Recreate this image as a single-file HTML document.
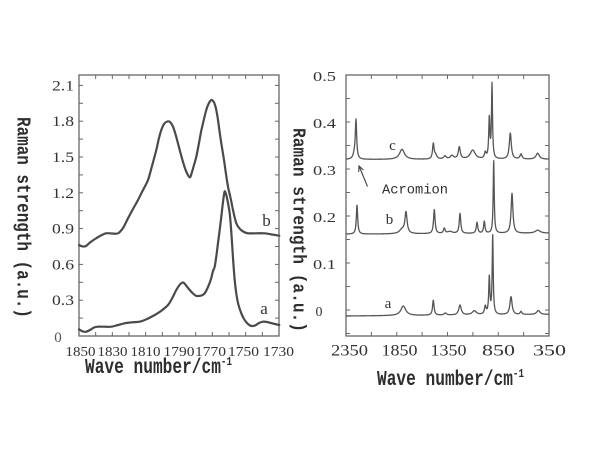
<!DOCTYPE html>
<html>
<head>
<meta charset="utf-8">
<style>
html,body{margin:0;padding:0;background:#fff;width:600px;height:450px;overflow:hidden;}
svg{display:block;}
.tl{font-family:"Liberation Serif",serif;fill:#333;}
.mono{font-family:"Liberation Mono",monospace;fill:#2e2e2e;}
</style>
</head>
<body>
<svg id="s" width="600" height="450" viewBox="0 0 600 450" xmlns="http://www.w3.org/2000/svg">
<rect width="600" height="450" fill="#fff"/>

<!-- LEFT PANEL -->
<rect x="79" y="75" width="200" height="261" fill="none" stroke="#666" stroke-width="1.3"/>
<g id="ticksL" stroke="#666" stroke-width="1"></g>
<path id="lb" fill="none" stroke="#4a4a4a" stroke-width="2.2" stroke-linejoin="round" stroke-linecap="round"/>
<path id="la" fill="none" stroke="#4a4a4a" stroke-width="2.2" stroke-linejoin="round" stroke-linecap="round"/>

<g class="tl" font-size="15">
  <text x="74" y="90.4" text-anchor="end" textLength="22" lengthAdjust="spacingAndGlyphs">2.1</text>
  <text x="74" y="126.2" text-anchor="end" textLength="22" lengthAdjust="spacingAndGlyphs">1.8</text>
  <text x="74" y="162" text-anchor="end" textLength="22" lengthAdjust="spacingAndGlyphs">1.5</text>
  <text x="74" y="197.8" text-anchor="end" textLength="22" lengthAdjust="spacingAndGlyphs">1.2</text>
  <text x="74" y="233.6" text-anchor="end" textLength="22" lengthAdjust="spacingAndGlyphs">0.9</text>
  <text x="74" y="269.4" text-anchor="end" textLength="22" lengthAdjust="spacingAndGlyphs">0.6</text>
  <text x="74" y="305.2" text-anchor="end" textLength="22" lengthAdjust="spacingAndGlyphs">0.3</text>
  <text x="58" y="342" text-anchor="middle" fill="#555">0</text>
</g>
<g class="tl" font-size="14">
  <text x="65.5" y="356" textLength="30" lengthAdjust="spacingAndGlyphs">1850</text>
  <text x="97.5" y="356" textLength="30" lengthAdjust="spacingAndGlyphs">1830</text>
  <text x="130.5" y="356" textLength="30" lengthAdjust="spacingAndGlyphs">1810</text>
  <text x="163.5" y="356" textLength="31" lengthAdjust="spacingAndGlyphs">1790</text>
  <text x="195" y="356" textLength="31" lengthAdjust="spacingAndGlyphs">1770</text>
  <text x="228" y="356" textLength="31" lengthAdjust="spacingAndGlyphs">1750</text>
  <text x="263" y="356" textLength="31" lengthAdjust="spacingAndGlyphs">1730</text>
</g>
<g class="tl" font-size="17">
  <text x="266.5" y="226" text-anchor="middle">b</text>
  <text x="264" y="314" text-anchor="middle">a</text>
</g>
<text class="mono" font-weight="bold" x="85" y="373" font-size="21" textLength="147" lengthAdjust="spacingAndGlyphs">Wave number/cm<tspan font-size="12" dy="-8">-1</tspan></text>
<text class="mono" font-weight="bold" font-size="19" transform="translate(17.5,117) rotate(90)" x="0" y="0" textLength="201" lengthAdjust="spacingAndGlyphs">Raman strength (a.u.)</text>

<!-- RIGHT PANEL -->
<rect x="346" y="75" width="203" height="261" fill="none" stroke="#666" stroke-width="1.3"/>
<g id="ticksR" stroke="#666" stroke-width="1"></g>
<path id="rc" fill="none" stroke="#555" stroke-width="1.3" stroke-linejoin="round"/>
<path id="rb" fill="none" stroke="#555" stroke-width="1.3" stroke-linejoin="round"/>
<path id="ra" fill="none" stroke="#555" stroke-width="1.3" stroke-linejoin="round"/>

<g class="tl" font-size="14">
  <text x="336" y="81" text-anchor="end" textLength="23" lengthAdjust="spacingAndGlyphs">0.5</text>
  <text x="336" y="128" text-anchor="end" textLength="23" lengthAdjust="spacingAndGlyphs">0.4</text>
  <text x="336" y="175" text-anchor="end" textLength="23" lengthAdjust="spacingAndGlyphs">0.3</text>
  <text x="336" y="222" text-anchor="end" textLength="23" lengthAdjust="spacingAndGlyphs">0.2</text>
  <text x="336" y="269" text-anchor="end" textLength="23" lengthAdjust="spacingAndGlyphs">0.1</text>
  <text x="319" y="316" text-anchor="middle">0</text>
</g>
<g class="tl" font-size="16">
  <text x="349.5" y="355.7" text-anchor="middle" textLength="37" lengthAdjust="spacingAndGlyphs">2350</text>
  <text x="399.5" y="355.7" text-anchor="middle" textLength="36" lengthAdjust="spacingAndGlyphs">1850</text>
  <text x="448.5" y="355.7" text-anchor="middle" textLength="36" lengthAdjust="spacingAndGlyphs">1350</text>
  <text x="498.5" y="355.7" text-anchor="middle" textLength="33" lengthAdjust="spacingAndGlyphs">850</text>
  <text x="549.5" y="355.7" text-anchor="middle" textLength="33" lengthAdjust="spacingAndGlyphs">350</text>
</g>
<g class="tl" font-size="15">
  <text x="392.5" y="150" text-anchor="middle">c</text>
  <text x="389.5" y="224" text-anchor="middle">b</text>
  <text x="388" y="308" text-anchor="middle">a</text>
</g>
<text class="mono" x="382" y="193.3" font-size="14" textLength="66" lengthAdjust="spacingAndGlyphs">Acromion</text>
<path d="M367.5,186.5 L359,166 M358.7,172 L359,166 L363.4,170" fill="none" stroke="#444" stroke-width="1.1"/>
<text class="mono" font-weight="bold" x="377" y="385" font-size="21" textLength="147" lengthAdjust="spacingAndGlyphs">Wave number/cm<tspan font-size="12" dy="-8">-1</tspan></text>
<text class="mono" font-weight="bold" font-size="18" transform="translate(293.5,128) rotate(90)" x="0" y="0" textLength="204" lengthAdjust="spacingAndGlyphs">Raman strength (a.u.)</text>
</svg>

<script>
(function(){
  function el(id){return document.getElementById(id);}
  function cr(p){
    var d='M'+p[0][0]+','+p[0][1];
    for(var i=0;i<p.length-1;i++){
      var p0=p[i-1]||p[i], p1=p[i], p2=p[i+1], p3=p[i+2]||p[i+1];
      var c1x=p1[0]+(p2[0]-p0[0])/6, c1y=p1[1]+(p2[1]-p0[1])/6;
      var c2x=p2[0]-(p3[0]-p1[0])/6, c2y=p2[1]-(p3[1]-p1[1])/6;
      d+='C'+c1x.toFixed(2)+','+c1y.toFixed(2)+' '+c2x.toFixed(2)+','+c2y.toFixed(2)+' '+p2[0]+','+p2[1];
    }
    return d;
  }
  var b=[[79,245],[83,246.5],[86,246],[90,242.5],[95,239],[100,236],[106,233.3],[112,233.5],[118,233.3],[123,228],[128,218.3],[133,209],[138,200],[143,190],[148,180],[152,166],[156.3,150],[159,138],[161.3,130],[164,124],[167.3,121.5],[170,122],[173,126.7],[176,136],[179.7,150],[183,162],[186,171],[189.7,177.3],[192,172],[194,165],[196.3,156.7],[199,143],[201,132],[203,123.3],[206,111],[208.5,104],[211.3,100],[213.5,101.5],[215,105],[216.3,110],[218,120],[219.5,131],[221.3,143.3],[224,160],[226,174],[228,186.7],[231,200],[233,210],[236.3,223.3],[240,229],[244,232],[248,233.3],[256,233.3],[264.7,233.3],[272,234.5],[279.3,235.7]];
  var a=[[79,329.3],[83,331.5],[86.3,331.7],[90,330],[94,327.5],[98,326.7],[104,326.7],[111.3,326.7],[118,325],[124.7,323.3],[132,322.3],[139.7,321.7],[147,319],[154.7,315],[161,311],[168,305],[172,298.5],[176.3,290],[179.5,285],[182,282.7],[184,283],[186.5,286],[189.7,290],[193,293.5],[196,295.8],[198,296],[201.5,295.5],[204.7,293.3],[208,287],[211,279],[213,271],[214.7,266.7],[216.5,255],[218,243],[219.7,230],[221.5,215],[223,202],[224.5,192],[225.5,192.5],[227,198],[229.7,213.3],[231.5,235],[233,258],[234.7,280],[236.5,295],[238.5,305],[241.3,313.3],[244,319],[247,323],[250,325.5],[253,326],[256,325],[259,323],[263,321.7],[267,322],[271,323],[275,324],[279.3,325]];
  el('lb').setAttribute('d',cr(b));
  el('la').setAttribute('d',cr(a));

  function spec(peaks,yb0,yb1){
    var d='';
    for(var x=346;x<=549.001;x+=0.25){
      var y=yb0+(yb1-yb0)*(x-346)/203;
      for(var i=0;i<peaks.length;i++){
        var t=(x-peaks[i][0])/peaks[i][2];
        y-=peaks[i][1]/(1+t*t);
      }
      d+=(d?'L':'M')+x.toFixed(2)+','+y.toFixed(2);
    }
    return d;
  }
  var C=[[354.5,5,1.5],[356,38,0.8],[402,10,3],[433.3,15,0.9],[435.5,4,1.5],[445,3,1.5],[452,3.5,2],[459.3,12,1.2],[472.7,9,3],[485.3,6,1],[489.3,40,0.7],[492,74,0.6],[510.3,26,1.2],[521,5,1.2],[537.7,6,2]];
  var B=[[357,29,0.8],[402,4,3],[406,21,1.3],[434.3,24,0.9],[444.3,5,1],[450,2,3],[460,20,0.9],[477,11,0.9],[484.3,12,0.8],[493.7,73,0.6],[512,40,1.1],[537.7,3,3]];
  var A=[[403.3,9.5,3],[433.3,15,0.9],[445.3,2,1.5],[460,10,1.5],[474.3,4,2.5],[485.3,8,1],[489.3,37,0.7],[492.7,79,0.6],[511,18,1.3],[521,3,1],[538.3,4,2]];
  el('rc').setAttribute('d',spec(C,159.5,159.3));
  el('rb').setAttribute('d',spec(B,234.2,233.2));
  el('ra').setAttribute('d',spec(A,316,314.5));

  var NS='http://www.w3.org/2000/svg';
  function ln(g,x1,y1,x2,y2){var l=document.createElementNS(NS,'line');l.setAttribute('x1',x1);l.setAttribute('y1',y1);l.setAttribute('x2',x2);l.setAttribute('y2',y2);g.appendChild(l);}
  var gl=el('ticksL'),k,x,y;
  for(k=1;k<12;k++){x=79+16.667*k;ln(gl,x,336,x,332);ln(gl,x,75,x,79);}
  for(k=1;k<=14;k++){y=336-17.9*k;if(y>76){ln(gl,79,y,83,y);ln(gl,279,y,275,y);}}
  var gr=el('ticksR');
  for(k=1;k<8;k++){x=346+25.375*k;ln(gr,x,336,x,332);ln(gr,x,75,x,79);}
  for(k=-1;k<=10;k++){y=310-23.5*k;if(y>76&&y<335){ln(gr,346,y,350,y);ln(gr,549,y,545,y);}}
})();
</script>
</body>
</html>
